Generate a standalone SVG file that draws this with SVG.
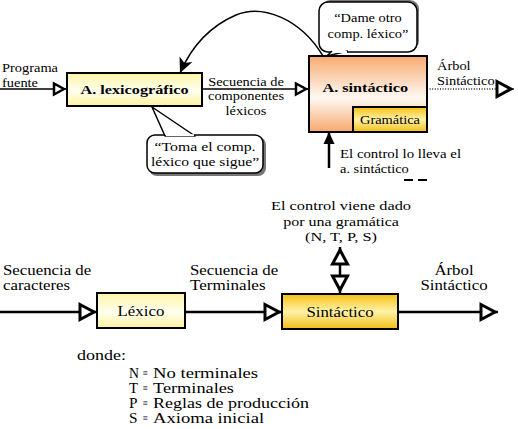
<svg xmlns="http://www.w3.org/2000/svg" width="518" height="429" viewBox="0 0 518 429">
<style>
text{font-family:"Liberation Serif","Times New Roman","DejaVu Serif",serif;fill:#000}
.b{font-weight:bold}
.box{stroke:#000;stroke-width:2}
.thin{fill:none;stroke:#000;stroke-width:1.5}
.thick{fill:none;stroke:#000;stroke-width:2.5}
.call{fill:#fff;stroke:#000;stroke-width:1.5}
.shadow{fill:#777}
</style>
<defs>
<linearGradient id="gLex" x1="0" y1="0" x2="0" y2="1">
<stop offset="0" stop-color="#fff4a6"/><stop offset="0.55" stop-color="#fffff0"/><stop offset="1" stop-color="#fff29e"/>
</linearGradient>
<linearGradient id="gOr" x1="0" y1="0" x2="0" y2="1">
<stop offset="0" stop-color="#f7ab70"/><stop offset="0.55" stop-color="#fff9f3"/><stop offset="1" stop-color="#f7a86c"/>
</linearGradient>
<linearGradient id="gGold" x1="0" y1="0" x2="0" y2="1">
<stop offset="0" stop-color="#f4bf10"/><stop offset="0.5" stop-color="#fff2a8"/><stop offset="1" stop-color="#f2be14"/>
</linearGradient>
<marker id="hS" markerUnits="userSpaceOnUse" viewBox="0 0 16 16" markerWidth="16" markerHeight="16" refX="15" refY="8" orient="auto" overflow="visible">
<path d="M2,2.5 L12,8 L2,13.5 z" fill="#fff" stroke="#000" stroke-width="2.5"/>
</marker>
<marker id="hL" markerUnits="userSpaceOnUse" viewBox="0 0 20 20" markerWidth="20" markerHeight="20" refX="19" refY="10" orient="auto-start-reverse" overflow="visible">
<path d="M2,2.5 L16,10 L2,17.5 z" fill="#fff" stroke="#000" stroke-width="3"/>
</marker>
<marker id="fA" markerUnits="userSpaceOnUse" viewBox="0 0 16 14" markerWidth="16" markerHeight="14" refX="15" refY="7" orient="auto" overflow="visible">
<path d="M0,0 L15,7 L0,14 L4,7 z" fill="#000"/>
</marker>
<marker id="fU" markerUnits="userSpaceOnUse" viewBox="0 0 12 12" markerWidth="12" markerHeight="12" refX="12" refY="6" orient="auto" overflow="visible">
<path d="M0,0.5 L12,6 L0,11.5 z" fill="#000"/>
</marker>
</defs>
<rect width="518" height="429" fill="#fff"/>

<g id="connectors">
<path class="thin" d="M0,89 L67,89" marker-end="url(#hS)"/>
<path class="thin" d="M202,89 L309,89" marker-end="url(#hS)"/>
<path d="M427,89 L514,89" fill="none" stroke="#222" stroke-width="1.3" stroke-dasharray="1 1.6" marker-end="url(#hL)"/>
<path class="thin" d="M323,56 C300,18 262,4 236,15 C208,27 190,50 180,73" marker-end="url(#fA)"/>
<path class="thick" d="M329,168 L329,132" marker-end="url(#fU)"/>
<path class="thick" d="M0,312 L97,312" marker-end="url(#hL)"/>
<path class="thick" d="M185,312 L282,312" marker-end="url(#hL)"/>
<path class="thick" d="M398,312 L498,312" marker-end="url(#hL)"/>
<path class="thick" d="M340,247 L340,293" marker-start="url(#hL)" marker-end="url(#hL)"/>
<path d="M404,180 L413,180 M418,180 L427,180" stroke="#000" stroke-width="2"/>
</g>

<g id="labels">
<text font-size="12" x="2" y="72" textLength="56" lengthAdjust="spacingAndGlyphs">Programa</text>
<text font-size="12" x="2" y="87" textLength="36" lengthAdjust="spacingAndGlyphs">fuente</text>
<text font-size="12" x="208.2" y="86" textLength="75.6" lengthAdjust="spacingAndGlyphs">Secuencia de</text>
<text font-size="12" x="208" y="100" textLength="76" lengthAdjust="spacingAndGlyphs">componentes</text>
<text font-size="12" x="225.6" y="115" textLength="40.8" lengthAdjust="spacingAndGlyphs">léxicos</text>
<text font-size="12" x="437" y="70" textLength="33.6" lengthAdjust="spacingAndGlyphs">Árbol</text>
<text font-size="12" x="437" y="85" textLength="57.6" lengthAdjust="spacingAndGlyphs">Sintáctico</text>
<text font-size="12" x="340" y="158" textLength="121" lengthAdjust="spacingAndGlyphs">El control lo lleva el</text>
<text font-size="12" x="340" y="173" textLength="68.8" lengthAdjust="spacingAndGlyphs">a. sintáctico</text>
<text font-size="13" x="271" y="210" textLength="140" lengthAdjust="spacingAndGlyphs">El control viene dado</text>
<text font-size="13" x="283.2" y="226" textLength="115.7" lengthAdjust="spacingAndGlyphs">por una gramática</text>
<text font-size="13" x="305" y="241" textLength="71.9" lengthAdjust="spacingAndGlyphs">(N, T, P, S)</text>
<text font-size="14" x="3" y="275" textLength="88.2" lengthAdjust="spacingAndGlyphs">Secuencia de</text>
<text font-size="14" x="3" y="290" textLength="67.1" lengthAdjust="spacingAndGlyphs">caracteres</text>
<text font-size="14" x="190" y="275" textLength="88.2" lengthAdjust="spacingAndGlyphs">Secuencia de</text>
<text font-size="14" x="190" y="290" textLength="75.6" lengthAdjust="spacingAndGlyphs">Terminales</text>
<text font-size="14" x="434.4" y="275" textLength="39.2" lengthAdjust="spacingAndGlyphs">Árbol</text>
<text font-size="14" x="420.4" y="290" textLength="67.2" lengthAdjust="spacingAndGlyphs">Sintáctico</text>
</g>

<g id="n-lexicografico">
<rect class="box" x="67" y="73" width="135" height="33" fill="url(#gLex)"/>
<text class="b" font-size="13.5" x="80.5" y="94" textLength="108" lengthAdjust="spacingAndGlyphs">A. lexicográfico</text>
</g>

<g id="n-sintactico">
<rect class="box" x="309" y="56" width="118" height="76" fill="url(#gOr)"/>
<text class="b" font-size="13.5" x="322.5" y="92" textLength="85.5" lengthAdjust="spacingAndGlyphs">A. sintáctico</text>
<rect class="box" x="353" y="107" width="74" height="25" fill="url(#gGold)"/>
<text font-size="12" x="360" y="124" textLength="60" lengthAdjust="spacingAndGlyphs">Gramática</text>
</g>

<g id="callout-toma">
<rect class="shadow" x="149" y="137" width="117" height="39" rx="8"/>
<rect class="call" x="147" y="135" width="116" height="38" rx="8"/>
<path d="M152,107 L195,136 L165,136 z" fill="#fff" stroke="#000" stroke-width="1.5" stroke-linejoin="round"/>
<path d="M166,135.2 L194,135.2" stroke="#fff" stroke-width="2"/>
<text font-size="13" x="154.6" y="151" textLength="100.9" lengthAdjust="spacingAndGlyphs">“Toma el comp.</text>
<text font-size="13" x="150.9" y="166" textLength="108.3" lengthAdjust="spacingAndGlyphs">léxico que sigue”</text>
</g>

<g id="callout-dame">
<rect class="shadow" x="321" y="0" width="98" height="50" rx="9"/>
<rect class="call" x="319" y="2" width="98" height="50" rx="9"/>
<path d="M332,51 L327,56 L348,51" fill="#fff" stroke="#000" stroke-width="1.5"/>
<path d="M333,52 L347,52" stroke="#fff" stroke-width="2"/>
<text font-size="12" x="334.2" y="22" textLength="67.6" lengthAdjust="spacingAndGlyphs">“Dame otro</text>
<text font-size="12" x="327.6" y="38" textLength="80.8" lengthAdjust="spacingAndGlyphs">comp. léxico”</text>
</g>

<g id="n-lexico">
<rect class="box" x="97" y="293" width="88" height="35" fill="url(#gLex)"/>
<text font-size="14" x="117.6" y="316" textLength="46.7" lengthAdjust="spacingAndGlyphs">Léxico</text>
</g>

<g id="n-sintactico2">
<rect class="box" x="282" y="294" width="116" height="35" fill="url(#gGold)"/>
<text font-size="14" x="306.4" y="317" textLength="67.2" lengthAdjust="spacingAndGlyphs">Sintáctico</text>
</g>

<g id="legend">
<text font-size="15" x="77" y="360" textLength="49" lengthAdjust="spacingAndGlyphs">donde:</text>
<text font-size="14.5" x="129" y="378" textLength="10" lengthAdjust="spacingAndGlyphs">N</text>
<text font-size="14.5" x="129" y="393" textLength="9" lengthAdjust="spacingAndGlyphs">T</text>
<text font-size="14.5" x="129" y="408" textLength="8.5" lengthAdjust="spacingAndGlyphs">P</text>
<text font-size="14.5" x="129" y="423" textLength="8.5" lengthAdjust="spacingAndGlyphs">S</text>
<text font-size="9" x="142.5" y="376">≡</text>
<text font-size="9" x="142.5" y="391">≡</text>
<text font-size="9" x="142.5" y="406">≡</text>
<text font-size="9" x="142.5" y="421">≡</text>
<text font-size="15" x="153" y="378" textLength="105.1" lengthAdjust="spacingAndGlyphs">No terminales</text>
<text font-size="15" x="153" y="393" textLength="81" lengthAdjust="spacingAndGlyphs">Terminales</text>
<text font-size="15" x="153" y="408" textLength="156" lengthAdjust="spacingAndGlyphs">Reglas de producción</text>
<text font-size="15" x="153" y="423" textLength="111.1" lengthAdjust="spacingAndGlyphs">Axioma inicial</text>
</g>
</svg>
